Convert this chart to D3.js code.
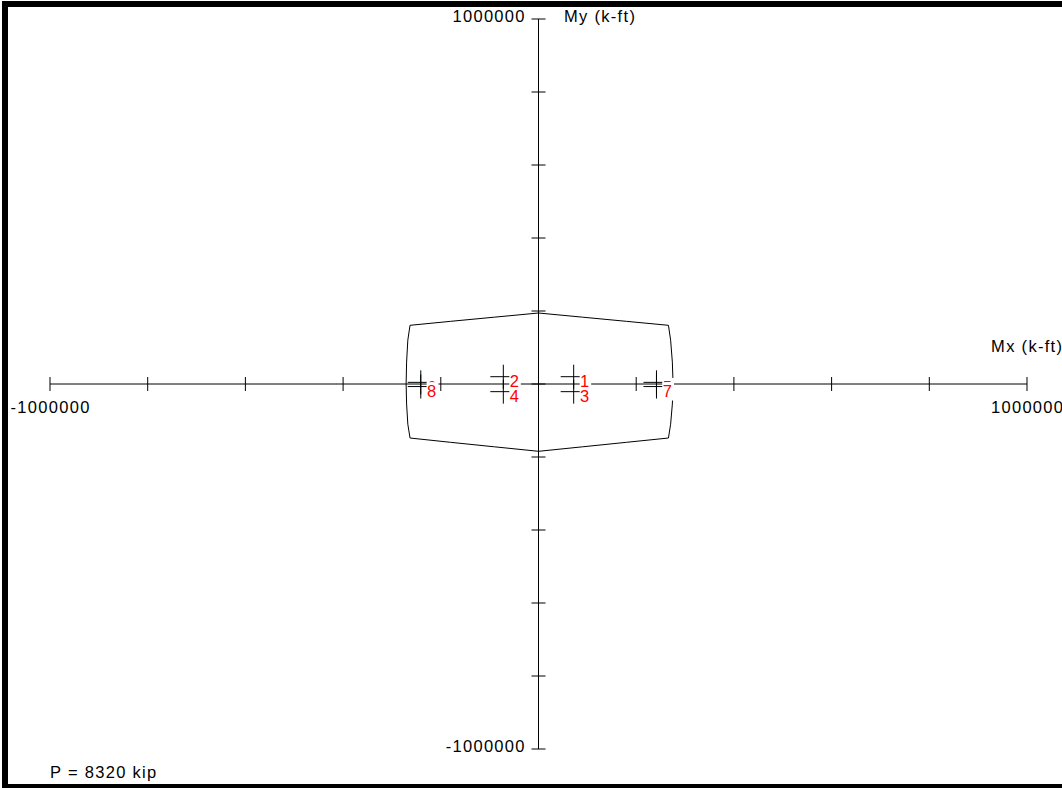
<!DOCTYPE html>
<html>
<head>
<meta charset="utf-8">
<script src="https://cdn.jsdelivr.net/npm/d3@7"></script>
<style>
body { margin: 0; background: #fff; }
svg { display: block; }
text { font-family: "Liberation Sans", Arial, sans-serif; font-size: 16.5px; }
</style>
</head>
<body>
<div id="chart"></div>
<script>
// interaction diagram at P = 8320 kip, clockwise from top (k-ft)
diagram_mx = [0, 90000, 180000, 266000, 270500, 274000, 275500, 274000, 270500, 266000, 180000, 90000,
	0, -90000, -180000, -263000, -267500, -270000, -271000, -270000, -267500, -263000, -180000, -90000];
diagram_my = [194500, 183100, 171700, 160800, 120000, 60000, 0, -55000, -110000, -148000, -159800, -172100,
	-184400, -172100, -159800, -148000, -110000, -55000, 0, 60000, 120000, 160800, 171700, 183100];

// factored load points
load_ids = ['1', '2', '3', '4', '5', '6', '7', '8'];
load_mx = [72000, -72000, 72000, -72000, 241500, -241000, 241500, -241000];
load_my = [20000, 20000, -21000, -21000, 4500, 4500, -7000, -7000];

// axis end labels
x_end_values = [-1000000, 1000000];
x_end_labels = ['-1000000', '1000000'];
y_end_values = [1000000, -1000000];
y_end_labels = ['1000000', '-1000000'];
x_title = 'Mx (k-ft)';
y_title = 'My (k-ft)';
p_label = 'P = 8320 kip';

// chart settings
chart_width = 1062;
chart_height = 788;
tick_half = 7;
cross_w = 13;
cross_h = 12;
spacing = 1.3;

// scales
x_scale = d3.scaleLinear().domain([-1000000, 1000000]).range([50, 1027]);
y_scale = d3.scaleLinear().domain([-1000000, 1000000]).range([749, 19]);
x0 = x_scale(0);
y0 = y_scale(0);

var svg = d3.select('#chart')
	.append('svg')
	.attr('width', chart_width)
	.attr('height', chart_height);

// frame
svg.append('rect')
	.attr('x', 5).attr('y', 4)
	.attr('width', 1100).attr('height', 783)
	.attr('fill', 'none')
	.attr('stroke', '#000')
	.attr('stroke-width', 6);

var axes = svg.append('g').attr('stroke', '#000').attr('stroke-width', 1);

// x axis
axes.append('line')
	.attr('x1', x_scale(-1000000)).attr('x2', x_scale(1000000))
	.attr('y1', y0).attr('y2', y0);
axes.selectAll('.xtick')
	.data(x_scale.ticks(10))
	.enter()
	.append('line')
	.attr('x1', (d) => x_scale(d)).attr('x2', (d) => x_scale(d))
	.attr('y1', y0 - tick_half).attr('y2', y0 + tick_half);

// y axis
axes.append('line')
	.attr('x1', x0).attr('x2', x0)
	.attr('y1', y_scale(1000000)).attr('y2', y_scale(-1000000));
axes.selectAll('.ytick')
	.data(y_scale.ticks(10))
	.enter()
	.append('line')
	.attr('x1', x0 - tick_half).attr('x2', x0 + tick_half)
	.attr('y1', (d) => y_scale(d)).attr('y2', (d) => y_scale(d));

// interaction diagram
var diagram = d3.zip(diagram_mx, diagram_my);
svg.append('path')
	.datum(diagram)
	.attr('d', d3.line().x((d) => x_scale(d[0])).y((d) => y_scale(d[1])).curve(d3.curveLinearClosed))
	.attr('fill', 'none')
	.attr('stroke', '#000')
	.attr('stroke-width', 1);

// load point crosses
var loads = load_ids.map((id, i) => ({id: id, mx: load_mx[i], my: load_my[i]}));
var crosses = svg.append('g').attr('stroke', '#000').attr('stroke-width', 1);
crosses.selectAll('.h')
	.data(loads)
	.enter()
	.append('line')
	.attr('x1', (d) => x_scale(d.mx) - cross_w).attr('x2', (d) => x_scale(d.mx) + cross_w)
	.attr('y1', (d) => y_scale(d.my)).attr('y2', (d) => y_scale(d.my));
crosses.selectAll('.v')
	.data(loads)
	.enter()
	.append('line')
	.attr('x1', (d) => x_scale(d.mx)).attr('x2', (d) => x_scale(d.mx))
	.attr('y1', (d) => y_scale(d.my) - cross_h).attr('y2', (d) => y_scale(d.my) + cross_h);

// load labels with white background, drawn in order
var labels = svg.selectAll('.lbl')
	.data(loads)
	.enter()
	.append('g');
labels.append('rect')
	.attr('x', (d) => x_scale(d.mx) + 6)
	.attr('y', (d) => y_scale(d.my) - 4.4)
	.attr('width', 11.5)
	.attr('height', 18.4)
	.attr('fill', '#fff');
labels.append('text')
	.attr('x', (d) => x_scale(d.mx) + 6.3)
	.attr('y', (d) => y_scale(d.my) + 10.3)
	.attr('fill', '#ff0000')
	.text((d) => d.id);

// axis labels
svg.selectAll('.xl')
	.data(x_end_values)
	.enter()
	.append('text')
	.attr('x', (d) => x_scale(d) + spacing / 2)
	.attr('y', y0 + 29)
	.attr('text-anchor', 'middle')
	.style('letter-spacing', spacing + 'px')
	.text((d, i) => x_end_labels[i]);

svg.selectAll('.yl')
	.data(y_end_values)
	.enter()
	.append('text')
	.attr('x', x0 - 14 + spacing)
	.attr('y', (d) => y_scale(d) + 2.5)
	.attr('text-anchor', 'end')
	.style('letter-spacing', spacing + 'px')
	.text((d, i) => y_end_labels[i]);

svg.append('text')
	.attr('x', 564).attr('y', 21.5)
	.style('letter-spacing', spacing + 'px')
	.text(y_title);

svg.append('text')
	.attr('x', 1062 + spacing).attr('y', 352)
	.attr('text-anchor', 'end')
	.style('letter-spacing', spacing + 'px')
	.text(x_title);

svg.append('text')
	.attr('x', 50).attr('y', 778)
	.style('letter-spacing', spacing + 'px')
	.text(p_label);
</script>
</body>
</html>
